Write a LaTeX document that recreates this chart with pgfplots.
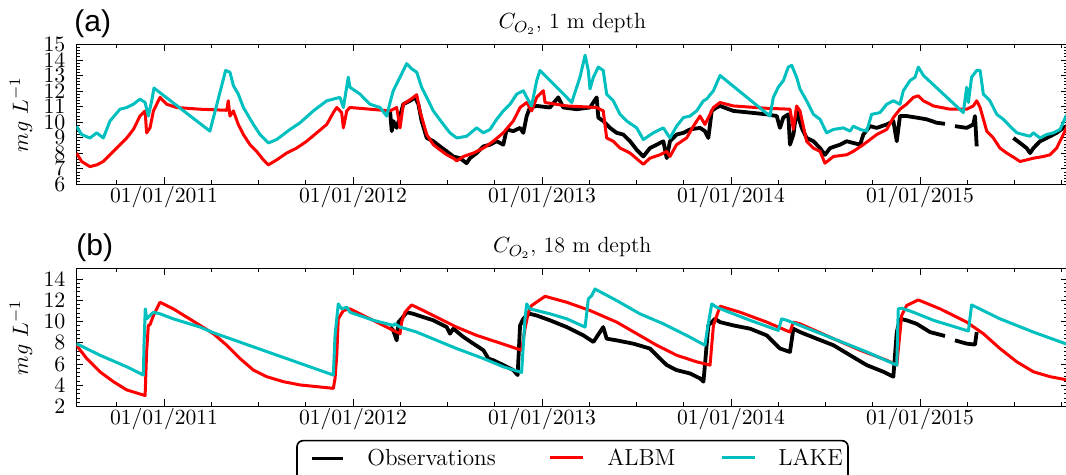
\documentclass[border=0pt]{standalone}
\usepackage{pgfplots}
\pgfplotsset{compat=1.18}
\usepackage{fontspec}
\newfontfamily\panelfont{Liberation Sans}
\definecolor{albmred}{RGB}{255,0,0}
\definecolor{lakecyan}{RGB}{0,191,191}

\pgfplotsset{
  co2panel/.style={
    scale only axis,
    width=495.75pt,
    xmin=2010.537, xmax=2015.783,
    xtick={2011,2012,2013,2014,2015},
    xticklabels={01/01/2011,01/01/2012,01/01/2013,01/01/2014,01/01/2015},
    minor xtick={2010.75,2011.25,2011.5,2011.75,2012.25,2012.5,2012.75,2013.25,2013.5,2013.75,2014.25,2014.5,2014.75,2015.25,2015.5,2015.75},
    minor y tick num=4,
    tick align=inside,
    major tick length=3.5pt,
    minor tick length=2pt,
    tick style={black, line width=0.5pt},
    axis line style={line width=0.6pt},
    tick label style={font=\fontsize{10.8}{12}\selectfont},
    xticklabel style={yshift=2.5pt},
    yticklabel style={xshift=-2pt},
    ylabel={$mg\ L^{-1}$},
    ylabel style={at={(axis description cs:-0.056,0.5)}, anchor=center, font=\fontsize{11}{13}\selectfont},
    title style={font=\fontsize{11}{13}\selectfont, at={(0.5,1)}, anchor=south, yshift=-4.3pt},
    unbounded coords=jump,
    every axis plot/.append style={line width=1.5pt, line join=round},
  },
  obs/.style={black, line width=1.9pt},
  albm/.style={albmred},
  lake/.style={lakecyan},
}

\begin{document}
\begin{tikzpicture}
\useasboundingbox (0,0) rectangle (533pt,-237.5pt);

% ---------------- (a) CO2 at 1 m ----------------
\begin{axis}[co2panel, at={(38.25pt,-22.25pt)}, anchor=north west,
  height=70pt, ymin=6, ymax=15, ytick={6,7,...,15},
  title={$C_{O_2}$, 1 m depth}]
\addplot[obs] coordinates {
(2012.196,10.73) (2012.205,9.43) (2012.213,10.08) (2012.231,9.64) (2012.249,10.40) (2012.266,11.16) (2012.302,11.38) (2012.328,11.60) (2012.346,11.16) (2012.363,10.08) (2012.390,8.99) (2012.425,8.78) (2012.460,8.45) (2012.496,8.13) (2012.531,7.80) (2012.566,7.69) (2012.601,7.37) (2012.619,7.69) (2012.654,8.02) (2012.690,8.45) (2012.725,8.56) (2012.760,8.78) (2012.795,8.56) (2012.813,9.54) (2012.848,9.43) (2012.884,9.64) (2012.901,9.32) (2012.919,10.40) (2012.936,10.95) (2012.972,11.05) (2013.042,10.95) (2013.086,11.60) (2013.113,10.95) (2013.183,10.84) (2013.254,10.95) (2013.289,11.60) (2013.298,10.30) (2013.324,10.08) (2013.360,9.64) (2013.395,9.32) (2013.430,9.21) (2013.466,8.78) (2013.501,8.23) (2013.536,7.80) (2013.571,8.34) (2013.607,8.56) (2013.642,8.78) (2013.660,7.69) (2013.677,8.78) (2013.712,9.21) (2013.748,9.32) (2013.783,9.54) (2013.836,9.64) (2013.862,9.43) (2013.880,8.99) (2013.898,10.73) (2013.924,10.95) (2013.942,11.05) (2014.012,10.73) (2014.101,10.62) (2014.189,10.51) (2014.242,10.40) (2014.259,9.64) (2014.277,10.30) (2014.303,10.51) (2014.312,8.56) (2014.330,9.21) (2014.347,10.73) (2014.374,9.64) (2014.400,8.99) (2014.436,8.78) (2014.471,8.34) (2014.497,7.91) (2014.524,8.34) (2014.577,8.56) (2014.612,8.78) (2014.647,8.67) (2014.683,8.56) (2014.700,9.21) (2014.736,9.75) (2014.771,9.64) (2014.824,9.86) (2014.859,10.08) (2014.877,8.78) (2014.894,10.40) (2014.929,10.40) (2014.982,10.30) (2015.035,10.19) (2015.088,9.97) (2015.132,9.90) (2015.150,nan) (2015.185,9.75) (2015.247,9.64) (2015.282,9.86) (2015.291,10.40) (2015.300,8.45) (2015.400,nan) (2015.494,8.99) (2015.529,8.67) (2015.564,8.34) (2015.582,8.02) (2015.600,8.34) (2015.635,8.78) (2015.688,9.10) (2015.723,9.32) (2015.758,9.64) (2015.783,9.80)
};
\addplot[albm] coordinates {
(2010.537,8.02) (2010.564,7.48) (2010.608,7.15) (2010.644,7.26) (2010.679,7.48) (2010.714,7.91) (2010.750,8.34) (2010.803,8.99) (2010.838,9.54) (2010.873,10.40) (2010.900,10.73) (2010.908,9.32) (2010.926,9.64) (2010.944,10.73) (2010.979,11.60) (2011.014,11.16) (2011.067,10.95) (2011.190,10.84) (2011.332,10.77) (2011.340,11.38) (2011.349,10.40) (2011.367,10.73) (2011.393,9.86) (2011.420,9.21) (2011.455,8.56) (2011.490,8.13) (2011.526,7.58) (2011.552,7.26) (2011.596,7.58) (2011.649,8.02) (2011.702,8.34) (2011.755,8.78) (2011.808,9.32) (2011.861,9.86) (2011.896,10.62) (2011.914,10.95) (2011.940,10.62) (2011.949,9.64) (2011.967,10.73) (2011.984,10.95) (2012.090,10.84) (2012.196,10.73) (2012.231,10.95) (2012.249,9.64) (2012.266,11.16) (2012.293,11.38) (2012.319,11.60) (2012.337,11.77) (2012.354,10.73) (2012.390,9.21) (2012.425,8.56) (2012.460,8.23) (2012.496,7.91) (2012.531,7.69) (2012.549,7.52) (2012.584,7.80) (2012.637,8.02) (2012.690,8.34) (2012.742,8.78) (2012.795,9.32) (2012.848,10.08) (2012.884,10.95) (2012.919,11.27) (2012.945,10.73) (2012.972,11.60) (2013.007,12.03) (2013.016,11.27) (2013.131,11.05) (2013.289,10.95) (2013.324,10.73) (2013.342,8.99) (2013.377,8.78) (2013.413,8.34) (2013.466,8.02) (2013.518,7.48) (2013.536,7.30) (2013.571,7.69) (2013.624,7.91) (2013.660,8.13) (2013.677,7.80) (2013.712,8.56) (2013.765,8.99) (2013.801,9.75) (2013.836,10.40) (2013.862,9.86) (2013.889,10.51) (2013.907,10.95) (2013.942,11.27) (2014.012,11.05) (2014.189,10.90) (2014.312,10.84) (2014.330,9.54) (2014.347,11.05) (2014.365,10.73) (2014.400,8.78) (2014.436,8.34) (2014.471,8.13) (2014.497,7.37) (2014.542,7.80) (2014.612,7.91) (2014.647,8.13) (2014.700,8.56) (2014.736,8.89) (2014.771,9.21) (2014.824,9.54) (2014.859,10.30) (2014.894,10.84) (2014.929,11.16) (2014.965,11.60) (2014.991,11.70) (2015.018,11.38) (2015.071,11.05) (2015.159,10.84) (2015.247,10.84) (2015.282,11.05) (2015.300,11.38) (2015.318,10.95) (2015.353,9.43) (2015.388,8.99) (2015.423,8.34) (2015.459,8.02) (2015.503,7.69) (2015.529,7.48) (2015.564,7.58) (2015.600,7.69) (2015.653,7.80) (2015.688,7.91) (2015.723,8.34) (2015.758,9.21) (2015.783,9.86)
};
\addplot[lake] coordinates {
(2010.537,9.75) (2010.564,9.21) (2010.608,8.99) (2010.644,9.32) (2010.679,8.99) (2010.714,10.08) (2010.767,10.84) (2010.803,10.95) (2010.838,11.16) (2010.873,11.49) (2010.900,11.27) (2010.917,10.40) (2010.935,11.38) (2010.947,12.20) (2011.243,9.43) (2011.326,13.33) (2011.349,13.22) (2011.367,12.36) (2011.393,11.81) (2011.420,10.95) (2011.473,9.86) (2011.508,9.21) (2011.552,8.67) (2011.596,8.89) (2011.667,9.54) (2011.720,9.97) (2011.790,10.73) (2011.861,11.38) (2011.931,11.60) (2011.949,10.95) (2011.975,12.90) (2011.984,12.25) (2012.037,11.81) (2012.090,11.16) (2012.143,10.95) (2012.178,10.40) (2012.196,11.27) (2012.213,12.03) (2012.249,12.90) (2012.266,13.33) (2012.284,13.77) (2012.310,13.44) (2012.337,13.22) (2012.363,12.25) (2012.390,11.60) (2012.425,10.73) (2012.478,9.86) (2012.513,9.32) (2012.549,8.99) (2012.601,9.10) (2012.654,9.64) (2012.690,9.32) (2012.725,9.54) (2012.760,10.19) (2012.795,10.73) (2012.831,11.16) (2012.866,11.81) (2012.901,12.03) (2012.919,11.60) (2012.945,11.05) (2012.972,12.68) (2012.989,13.33) (2013.025,12.90) (2013.078,12.25) (2013.131,11.60) (2013.157,11.27) (2013.201,12.90) (2013.228,14.31) (2013.245,13.33) (2013.254,12.14) (2013.272,12.90) (2013.298,13.55) (2013.324,13.33) (2013.342,11.81) (2013.377,11.38) (2013.413,10.51) (2013.448,10.08) (2013.501,9.64) (2013.536,8.89) (2013.589,9.32) (2013.642,9.64) (2013.677,8.99) (2013.712,9.75) (2013.748,10.30) (2013.783,10.40) (2013.818,10.73) (2013.854,11.38) (2013.871,11.49) (2013.907,12.03) (2013.942,13.01) (2014.206,10.40) (2014.224,11.60) (2014.250,12.25) (2014.277,12.68) (2014.303,13.55) (2014.321,13.66) (2014.347,12.90) (2014.365,12.14) (2014.400,11.38) (2014.436,10.51) (2014.471,10.19) (2014.506,9.32) (2014.542,9.54) (2014.594,9.64) (2014.630,9.43) (2014.647,9.75) (2014.683,9.54) (2014.718,9.43) (2014.744,10.51) (2014.788,10.62) (2014.824,11.16) (2014.859,11.38) (2014.894,11.16) (2014.912,12.03) (2014.947,12.68) (2014.974,12.90) (2014.991,13.55) (2015.018,13.01) (2015.229,10.62) (2015.247,12.25) (2015.256,11.27) (2015.273,12.90) (2015.300,13.33) (2015.318,13.33) (2015.335,11.81) (2015.370,11.38) (2015.406,10.51) (2015.441,10.19) (2015.476,9.75) (2015.512,9.32) (2015.547,9.21) (2015.582,9.10) (2015.600,9.32) (2015.635,8.99) (2015.670,9.21) (2015.706,9.32) (2015.741,9.54) (2015.773,10.40) (2015.783,10.50)
};
\end{axis}

% ---------------- (b) CO2 at 18 m ----------------
\begin{axis}[co2panel, at={(38.25pt,-134.25pt)}, anchor=north west,
  height=69pt, ymin=2, ymax=15, ytick={2,4,...,14},
  title={$C_{O_2}$, 18 m depth}]
\addplot[obs] coordinates {
(2012.196,9.48) (2012.213,9.17) (2012.231,8.23) (2012.240,9.95) (2012.257,10.26) (2012.284,10.88) (2012.319,10.73) (2012.372,10.42) (2012.425,10.12) (2012.496,9.48) (2012.513,8.86) (2012.531,9.33) (2012.584,8.55) (2012.637,7.92) (2012.690,7.30) (2012.716,6.52) (2012.742,6.36) (2012.795,5.90) (2012.848,5.43) (2012.871,4.96) (2012.884,9.64) (2012.901,10.26) (2012.919,10.57) (2012.936,10.73) (2012.972,10.57) (2013.042,10.12) (2013.131,9.48) (2013.219,8.70) (2013.272,8.08) (2013.324,9.48) (2013.342,8.39) (2013.395,8.23) (2013.483,7.92) (2013.571,7.46) (2013.624,6.52) (2013.660,5.90) (2013.712,5.43) (2013.783,5.11) (2013.836,4.65) (2013.854,4.34) (2013.862,5.90) (2013.880,9.64) (2013.898,9.95) (2013.915,10.26) (2013.942,9.95) (2014.012,9.64) (2014.101,9.33) (2014.189,8.70) (2014.259,7.46) (2014.312,7.14) (2014.330,9.33) (2014.365,9.01) (2014.453,8.39) (2014.542,7.77) (2014.630,6.83) (2014.718,5.90) (2014.806,5.27) (2014.859,4.81) (2014.877,9.01) (2014.894,10.26) (2014.929,10.12) (2014.982,9.79) (2015.053,9.01) (2015.132,8.64) (2015.150,nan) (2015.185,8.23) (2015.247,7.92) (2015.291,7.83) (2015.300,9.01)
};
\addplot[albm] coordinates {
(2010.537,7.77) (2010.591,6.52) (2010.661,5.27) (2010.732,4.34) (2010.803,3.56) (2010.900,3.03) (2010.908,7.14) (2010.917,9.64) (2010.926,9.70) (2010.944,10.57) (2010.979,11.82) (2011.049,11.20) (2011.120,10.42) (2011.191,9.64) (2011.261,8.86) (2011.332,7.77) (2011.402,6.52) (2011.473,5.43) (2011.543,4.81) (2011.631,4.34) (2011.720,4.03) (2011.808,3.87) (2011.896,3.71) (2011.905,4.65) (2011.914,6.83) (2011.922,10.26) (2011.949,11.04) (2011.984,11.20) (2012.055,10.57) (2012.125,9.95) (2012.213,9.17) (2012.249,8.86) (2012.257,9.95) (2012.275,10.88) (2012.310,11.57) (2012.372,11.04) (2012.460,10.26) (2012.548,9.48) (2012.654,8.70) (2012.760,8.08) (2012.892,7.30) (2012.910,9.33) (2012.928,10.88) (2012.945,11.51) (2013.016,12.38) (2013.131,11.82) (2013.254,11.04) (2013.395,9.95) (2013.501,8.86) (2013.607,7.77) (2013.712,6.83) (2013.818,6.21) (2013.889,5.90) (2013.907,9.64) (2013.942,11.45) (2014.048,10.88) (2014.189,9.95) (2014.312,9.01) (2014.330,9.95) (2014.365,9.79) (2014.542,8.39) (2014.683,7.30) (2014.824,6.36) (2014.877,5.90) (2014.903,10.57) (2014.929,11.51) (2014.991,12.04) (2015.106,11.20) (2015.247,9.95) (2015.335,8.86) (2015.423,7.46) (2015.512,6.21) (2015.600,5.27) (2015.688,4.81) (2015.783,4.49)
};
\addplot[lake] coordinates {
(2010.537,7.92) (2010.661,6.83) (2010.803,5.74) (2010.891,4.96) (2010.894,7.77) (2010.901,11.20) (2010.908,10.26) (2010.926,10.57) (2010.944,10.88) (2010.979,10.73) (2011.049,10.26) (2011.191,9.48) (2011.261,8.95) (2011.896,4.96) (2011.905,8.70) (2011.922,11.66) (2011.940,11.20) (2011.967,11.35) (2011.984,10.88) (2012.108,10.12) (2012.213,9.64) (2012.222,9.79) (2012.249,9.48) (2012.337,9.01) (2012.443,8.23) (2012.548,7.46) (2012.690,6.52) (2012.795,5.74) (2012.892,5.21) (2012.910,10.26) (2012.919,11.66) (2012.936,11.20) (2012.972,11.04) (2013.042,10.73) (2013.131,10.26) (2013.228,9.48) (2013.245,12.13) (2013.263,12.44) (2013.280,13.07) (2013.395,11.98) (2013.518,10.73) (2013.642,9.79) (2013.765,8.70) (2013.862,7.77) (2013.878,9.60) (2013.898,11.66) (2013.924,11.35) (2014.012,10.73) (2014.101,10.12) (2014.250,9.17) (2014.268,10.26) (2014.295,10.12) (2014.365,9.64) (2014.542,8.39) (2014.718,7.14) (2014.877,5.90) (2014.885,11.20) (2014.903,11.26) (2014.965,10.88) (2015.071,10.12) (2015.256,9.11) (2015.273,11.57) (2015.423,10.26) (2015.600,9.01) (2015.783,7.83)
};
\end{axis}

\node[anchor=base west, inner sep=0pt] at (37pt,-15.85pt) {\panelfont\fontsize{15}{18}\selectfont (a)};
\node[anchor=base west, inner sep=0pt] at (38pt,-127.85pt) {\panelfont\fontsize{15}{18}\selectfont (b)};

% legend: frame (its lower edge falls below the page), keys and names
\draw[black, line width=0.8pt, rounded corners=3pt] (148.5pt,-248pt) rectangle (424pt,-220.35pt);
\draw[black, line width=1.9pt, line cap=butt] (156pt,-229.25pt) -- (163.75pt,-229.25pt) -- (171.5pt,-229.25pt);
\draw[albmred, line width=1.5pt] (275pt,-229pt) -- (291.5pt,-229pt);
\draw[lakecyan, line width=1.5pt] (361pt,-229pt) -- (377.5pt,-229pt);
\begin{scope}[every node/.style={anchor=base west, inner sep=0pt, font=\fontsize{11.6}{13}\selectfont}]
\node at (183.5pt,-232.6pt) {Observations};
\node at (303.5pt,-232.6pt) {ALBM};
\node at (389pt,-232.6pt) {LAKE};
\end{scope}
\end{tikzpicture}
\end{document}
